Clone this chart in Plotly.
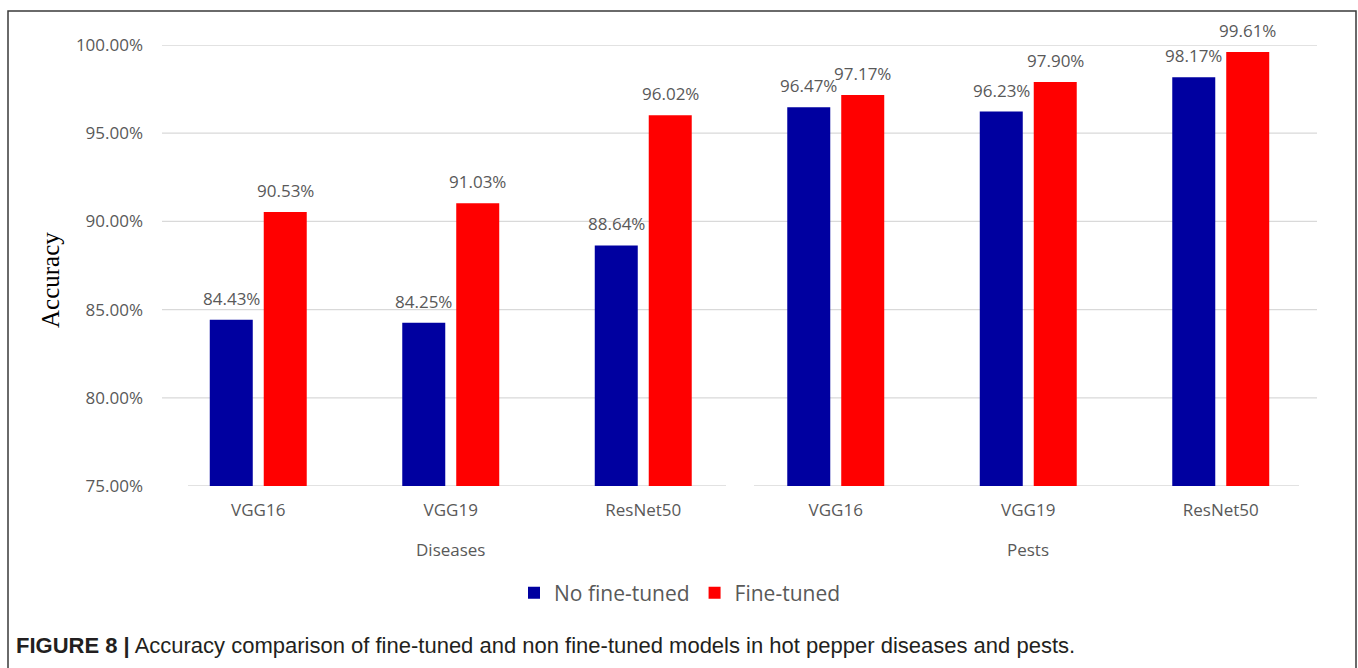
import plotly.graph_objects as go

# ---------------- data ----------------
groups = ["Diseases", "Pests"]
models = ["VGG16", "VGG19", "ResNet50", "VGG16", "VGG19", "ResNet50"]
no_fine_tuned = [84.43, 84.25, 88.64, 96.47, 96.23, 98.17]
fine_tuned = [90.53, 91.03, 96.02, 97.17, 97.90, 99.61]
y_ticks = [75, 80, 85, 90, 95, 100]
series_names = ["No fine-tuned", "Fine-tuned"]
series_colors = ["#0000A0", "#FF0000"]

# ---------------- layout geometry (pixels) ----------------
W, H = 1358, 668
PL, PR, PT, PB = 162, 1317, 45, 486  # plot area


def px_x(p):
    return (p - PL) / (PR - PL)


def px_y(p):
    return (PB - p) / (PB - PT)


GRAY = "#595959"
GRID = "#d9d9d9"
FONT = "Open Sans"

idx = list(range(len(models)))
bar_w = 0.2234
offsets = [-0.2519, 0.0285]

fig = go.Figure()
annotations = []
for vals, name, color, off in zip([no_fine_tuned, fine_tuned], series_names, series_colors, offsets):
    fig.add_trace(go.Bar(
        x=idx, y=vals, name=name, marker=dict(color=color, line=dict(width=0)),
        width=bar_w, offset=off,
    ))
    for i, v in zip(idx, vals):
        annotations.append(dict(
            x=i + off + bar_w / 2, y=v, xref="x", yref="y", text=f"{v:.2f}%",
            showarrow=False, yanchor="bottom", yshift=8,
            font=dict(family=FONT, size=17, color=GRAY),
        ))

# group labels
n_per = len(models) // len(groups)
for g, name in enumerate(groups):
    centre = sum(idx[g * n_per:(g + 1) * n_per]) / n_per
    annotations.append(dict(
        x=centre, y=px_y(549), xref="x", yref="paper", text=name, showarrow=False,
        yanchor="middle", font=dict(family=FONT, size=17, color=GRAY),
    ))

# y axis title
annotations.append(dict(
    x=px_x(50), y=px_y(280), xref="paper", yref="paper", text="Accuracy",
    textangle=-90, showarrow=False, xanchor="center", yanchor="middle",
    font=dict(family="Liberation Serif", size=25, color="black"),
))

# caption
annotations.append(dict(
    x=px_x(14), y=px_y(645), xref="paper", yref="paper", xanchor="left", yanchor="middle",
    text="<b>FIGURE 8 |</b> Accuracy comparison of fine-tuned and non fine-tuned models in hot pepper diseases and pests.",
    showarrow=False, font=dict(family="Liberation Sans", size=22, color="#231f20"),
))

shapes = []
# gridlines
for t in y_ticks[1:]:
    shapes.append(dict(type="line", xref="paper", yref="y", x0=0, x1=1, y0=t, y1=t,
                       line=dict(color=GRID, width=1.3), layer="below"))
# baseline with gap between groups
for a, b in [(188, 726), (754, 1299)]:
    shapes.append(dict(type="line", xref="paper", yref="y", x0=px_x(a), x1=px_x(b),
                       y0=y_ticks[0], y1=y_ticks[0], line=dict(color=GRID, width=1.3), layer="below"))
# outer border
shapes.append(dict(type="rect", xref="paper", yref="paper", x0=px_x(8), x1=px_x(1356),
                   y0=px_y(700), y1=px_y(11), line=dict(color="#3a3a3a", width=1.5)))

fig.update_layout(
    width=W, height=H,
    margin=dict(l=PL, r=W - PR, t=PT, b=H - PB, pad=0),
    paper_bgcolor="white", plot_bgcolor="white",
    font=dict(family=FONT, size=17, color=GRAY),
    barmode="overlay",
    showlegend=True,
    legend=dict(orientation="h", x=px_x(680), xanchor="center", y=px_y(593), yanchor="middle",
                font=dict(family=FONT, size=21, color=GRAY), bgcolor="rgba(0,0,0,0)",
                itemwidth=30, tracegroupgap=0),
    xaxis=dict(range=[-0.5, len(models) - 0.5], tickmode="array", tickvals=idx, ticktext=models,
               showgrid=False, zeroline=False, showline=False, ticks="", ticklabelstandoff=12,
               tickfont=dict(family=FONT, size=17, color=GRAY)),
    yaxis=dict(range=[y_ticks[0], y_ticks[-1]], tickmode="array", tickvals=y_ticks,
               ticktext=[f"{t:.2f}%" for t in y_ticks], showgrid=False, zeroline=False,
               showline=False, ticks="", ticklabelstandoff=18,
               tickfont=dict(family=FONT, size=17, color=GRAY)),
    annotations=annotations,
    shapes=shapes,
)

fig.write_html("out.html")
